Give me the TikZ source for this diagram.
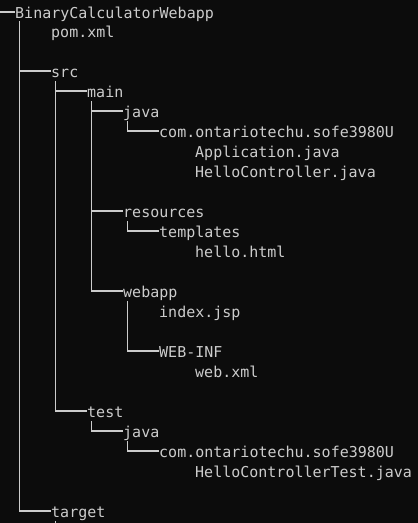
\documentclass[tikz,border=0pt]{standalone}
\usepackage{fontspec}
\setmonofont{DejaVu Sans Mono}
\definecolor{bg}{HTML}{0C0C0C}
\definecolor{fg}{HTML}{CCCCCC}
\begin{document}
\begin{tikzpicture}[x=1pt,y=-1pt,
  entry/.style={anchor=west,inner sep=0pt,text height=14pt,text depth=1pt,
    font=\ttfamily\fontsize{15}{18}\selectfont,text=fg},
  branch/.style={draw=fg,line width=1.1pt}]
\fill[bg] (0,0) rectangle (418,523);
\clip (0,0) rectangle (418,523);
% entries
\node[entry] (root) at (15,12) {BinaryCalculatorWebapp};
\node[entry] (pom) at (51,31) {pom.xml};
\node[entry] (src) at (51,71) {src};
\node[entry] (main) at (87,91) {main};
\node[entry] (java) at (123,111) {java};
\node[entry] (pkg) at (159,131) {com.ontariotechu.sofe3980U};
\node[entry] (app) at (195,151) {Application.java};
\node[entry] (hc) at (195,171) {HelloController.java};
\node[entry] (res) at (123,211) {resources};
\node[entry] (tpl) at (159,231) {templates};
\node[entry] (hello) at (195,251) {hello.html};
\node[entry] (webapp) at (123,291) {webapp};
\node[entry] (index) at (159,311) {index.jsp};
\node[entry] (webinf) at (159,351) {WEB-INF};
\node[entry] (webxml) at (195,371) {web.xml};
\node[entry] (test) at (87,411) {test};
\node[entry] (tjava) at (123,431) {java};
\node[entry] (tpkg) at (159,451) {com.ontariotechu.sofe3980U};
\node[entry] (hct) at (195,471) {HelloControllerTest.java};
\node[entry] (target) at (51,511) {target};
\coordinate (lead) at (0,12);
% connectors
\draw[branch] (lead) -- (root.west);
\draw[branch] ([xshift=4.5pt,yshift=-9pt]root.west) |- (target.west);
\draw[branch] ([xshift=4.5pt]root.west |- src.west) -- (src.west);
\draw[branch] ([xshift=4.5pt,yshift=-10pt]src.west) |- (test.west);
\draw[branch] ([xshift=4.5pt]src.west |- main.west) -- (main.west);
\draw[branch] ([xshift=4.5pt,yshift=-10pt]main.west) |- (webapp.west);
\draw[branch] ([xshift=4.5pt]main.west |- java.west) -- (java.west);
\draw[branch] ([xshift=4.5pt]main.west |- res.west) -- (res.west);
\draw[branch] ([xshift=4.5pt,yshift=-10pt]java.west) |- (pkg.west);
\draw[branch] ([xshift=4.5pt,yshift=-10pt]res.west) |- (tpl.west);
\draw[branch] ([xshift=4.5pt,yshift=-10pt]webapp.west) |- (webinf.west);
\draw[branch] ([xshift=4.5pt,yshift=-10pt]test.west) |- (tjava.west);
\draw[branch] ([xshift=4.5pt,yshift=-10pt]tjava.west) |- (tpkg.west);
\draw[branch] ([xshift=4.5pt,yshift=-10pt]target.west) -- ++(0,10);
\end{tikzpicture}
\end{document}
